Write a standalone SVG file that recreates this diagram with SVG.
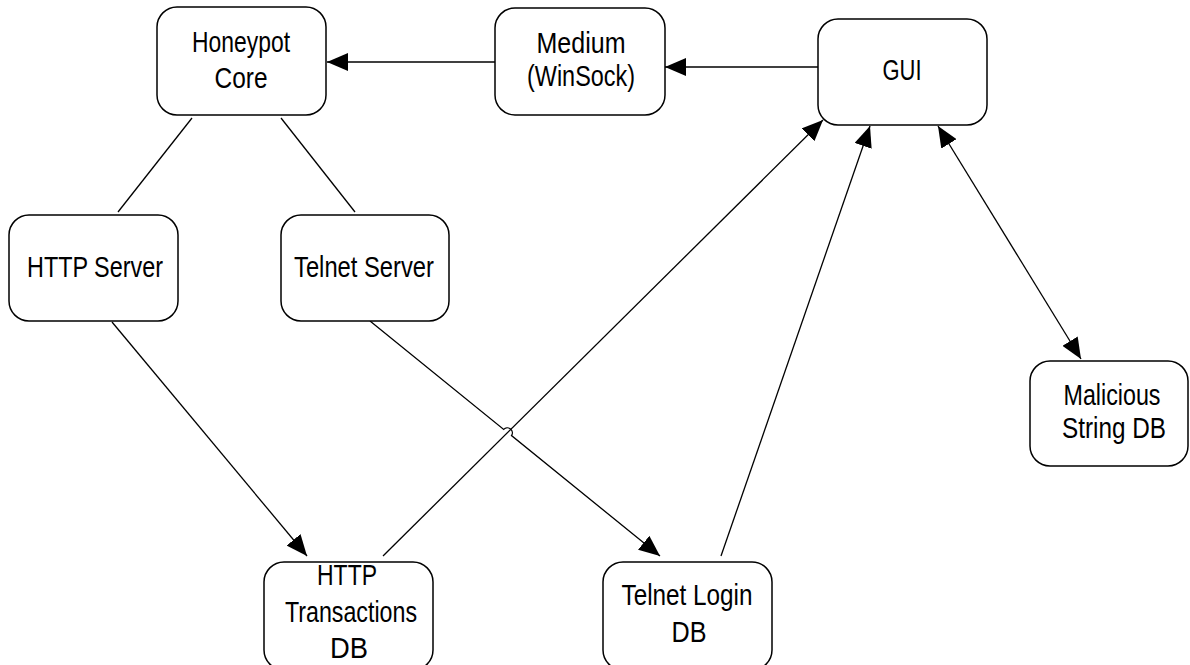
<svg xmlns="http://www.w3.org/2000/svg" width="1190" height="665" viewBox="0 0 1190 665">
  <style>
    .box { fill: #ffffff; stroke: #000000; stroke-width: 1.5; }
    .lbl { font-family: "Liberation Sans", Arial, sans-serif; font-size: 29px; fill: #000000; text-anchor: middle; }
    .wire { fill: none; stroke: #000000; stroke-width: 1.3; }
  </style>
  <defs>
    <marker id="arrow" markerUnits="userSpaceOnUse" markerWidth="22" markerHeight="18" viewBox="0 0 22 18" refX="21" refY="9" orient="auto-start-reverse">
      <path d="M0,0 L21,9 L0,18 Z" fill="#000000"/>
    </marker>
  </defs>

  <rect width="1190" height="665" fill="#ffffff"/>

  <!-- connectors -->
  <g id="connectors">
    <path class="wire" d="M818,67 L665,67" marker-end="url(#arrow)"/>
    <path class="wire" d="M495,62 L327,62" marker-end="url(#arrow)"/>
    <path class="wire" d="M192,118 L118,212"/>
    <path class="wire" d="M281,118 L355,212"/>
    <path class="wire" d="M112,322 L307,556" marker-end="url(#arrow)"/>
    <path class="wire" d="M383,556 L823,120" marker-end="url(#arrow)"/>
    <!-- telnet path hops over the HTTP transactions line -->
    <path class="wire" d="M370,321 L503.7,429.4 A5,5 0 0 1 511.5,435.6 L660,556" marker-end="url(#arrow)"/>
    <path class="wire" d="M721,556 L870,126" marker-end="url(#arrow)"/>
    <path class="wire" d="M938,126 L1081,359" marker-start="url(#arrow)" marker-end="url(#arrow)"/>
  </g>

  <g id="honeypot-core">
    <rect class="box" x="157" y="7" width="169" height="108" rx="20"/>
    <text class="lbl" x="241" y="52" textLength="98" lengthAdjust="spacingAndGlyphs">Honeypot</text>
    <text class="lbl" x="241" y="88" textLength="53" lengthAdjust="spacingAndGlyphs">Core</text>
  </g>

  <g id="medium">
    <rect class="box" x="495" y="8" width="170" height="107" rx="20"/>
    <text class="lbl" x="581" y="53" textLength="89" lengthAdjust="spacingAndGlyphs">Medium</text>
    <text class="lbl" x="581" y="86" textLength="108" lengthAdjust="spacingAndGlyphs">(WinSock)</text>
  </g>

  <g id="gui">
    <rect class="box" x="818" y="19" width="169" height="106" rx="20"/>
    <text class="lbl" x="902" y="80" textLength="39" lengthAdjust="spacingAndGlyphs">GUI</text>
  </g>

  <g id="http-server">
    <rect class="box" x="9" y="215" width="169" height="106" rx="20"/>
    <text class="lbl" x="95" y="277" textLength="136" lengthAdjust="spacingAndGlyphs">HTTP Server</text>
  </g>

  <g id="telnet-server">
    <rect class="box" x="281" y="215" width="168" height="106" rx="20"/>
    <text class="lbl" x="364" y="277" textLength="140" lengthAdjust="spacingAndGlyphs">Telnet Server</text>
  </g>

  <g id="malicious-string-db">
    <rect class="box" x="1030" y="361" width="158" height="105" rx="20"/>
    <text class="lbl" x="1112" y="405" textLength="97" lengthAdjust="spacingAndGlyphs">Malicious</text>
    <text class="lbl" x="1114" y="438" textLength="104" lengthAdjust="spacingAndGlyphs">String DB</text>
  </g>

  <g id="http-transactions-db">
    <rect class="box" x="264" y="562" width="169" height="108" rx="20"/>
    <text class="lbl" x="347" y="585" textLength="60" lengthAdjust="spacingAndGlyphs">HTTP</text>
    <text class="lbl" x="351" y="622" textLength="132" lengthAdjust="spacingAndGlyphs">Transactions</text>
    <text class="lbl" x="349" y="658" textLength="38" lengthAdjust="spacingAndGlyphs">DB</text>
  </g>

  <g id="telnet-login-db">
    <rect class="box" x="603" y="562" width="169" height="108" rx="20"/>
    <text class="lbl" x="687" y="605" textLength="131" lengthAdjust="spacingAndGlyphs">Telnet Login</text>
    <text class="lbl" x="689" y="642" textLength="35" lengthAdjust="spacingAndGlyphs">DB</text>
  </g>
</svg>
